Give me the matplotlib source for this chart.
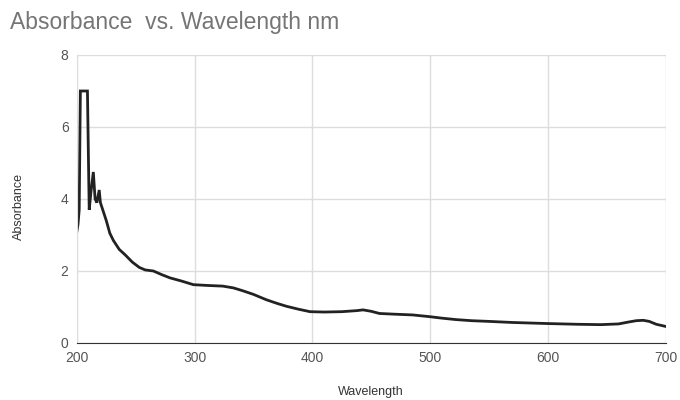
import matplotlib.pyplot as plt

plt.rcParams['font.family'] = ['Liberation Sans', 'DejaVu Sans']

# spectrum
wavelength = [200, 201, 202, 203, 205, 207, 209, 210.5, 212, 214, 215.5, 217, 219, 220, 222,
              225, 228, 231, 236, 241, 247, 253, 258, 265, 272, 279, 289, 299, 310,
              324, 333, 341, 350, 361, 370, 378, 388, 398, 410, 425, 438, 443, 450,
              457, 470, 485, 500, 510, 522, 535, 550, 570, 600, 625, 645, 660, 668,
              675, 681, 686, 692, 700]
absorbance = [3.1, 3.3, 3.7, 7.0, 7.0, 7.0, 7.0, 3.7, 4.2, 4.75, 4.0, 3.9, 4.25, 3.9, 3.7,
              3.4, 3.05, 2.85, 2.6, 2.45, 2.25, 2.1, 2.03, 2.0, 1.9, 1.81, 1.72, 1.62, 1.6,
              1.58, 1.53, 1.45, 1.35, 1.2, 1.1, 1.02, 0.94, 0.87, 0.86, 0.87, 0.9, 0.92, 0.88,
              0.82, 0.8, 0.78, 0.73, 0.69, 0.65, 0.62, 0.6, 0.57, 0.54, 0.52, 0.51, 0.53, 0.58,
              0.62, 0.63, 0.6, 0.52, 0.46]

x_ticks = [200, 300, 400, 500, 600, 700]
y_ticks = [0, 2, 4, 6, 8]

fig = plt.figure(figsize=(6.8, 4), dpi=100)
ax = fig.add_axes([0.113, 0.1425, 0.866, 0.72])

ax.plot(wavelength, absorbance, color='#222222', lw=2.0, solid_joinstyle='miter')

ax.set_xlim(200, 700)
ax.set_ylim(0, 8)
ax.set_xticks(x_ticks)
ax.set_yticks(y_ticks)
ax.grid(True, color='#dddddd', lw=1)
ax.set_axisbelow(True)
for s in ['top', 'right']:
    ax.spines[s].set_visible(False)
ax.spines['left'].set_color('#dddddd')
ax.spines['bottom'].set_color('#333333')
ax.tick_params(length=0, labelsize=10, colors='#555555', pad=6)

ax.set_xlabel('Wavelength', fontsize=9, color='#333333')
ax.set_ylabel('Absorbance', fontsize=9, color='#333333')
ax.xaxis.set_label_coords(0.5, -0.15)
ax.yaxis.set_label_coords(-0.088, 0.475)
fig.text(0.015, 0.945, 'Absorbance  vs. Wavelength nm', fontsize=16.5, color='#757575', va='center')

fig.savefig('out.png', dpi=100)
